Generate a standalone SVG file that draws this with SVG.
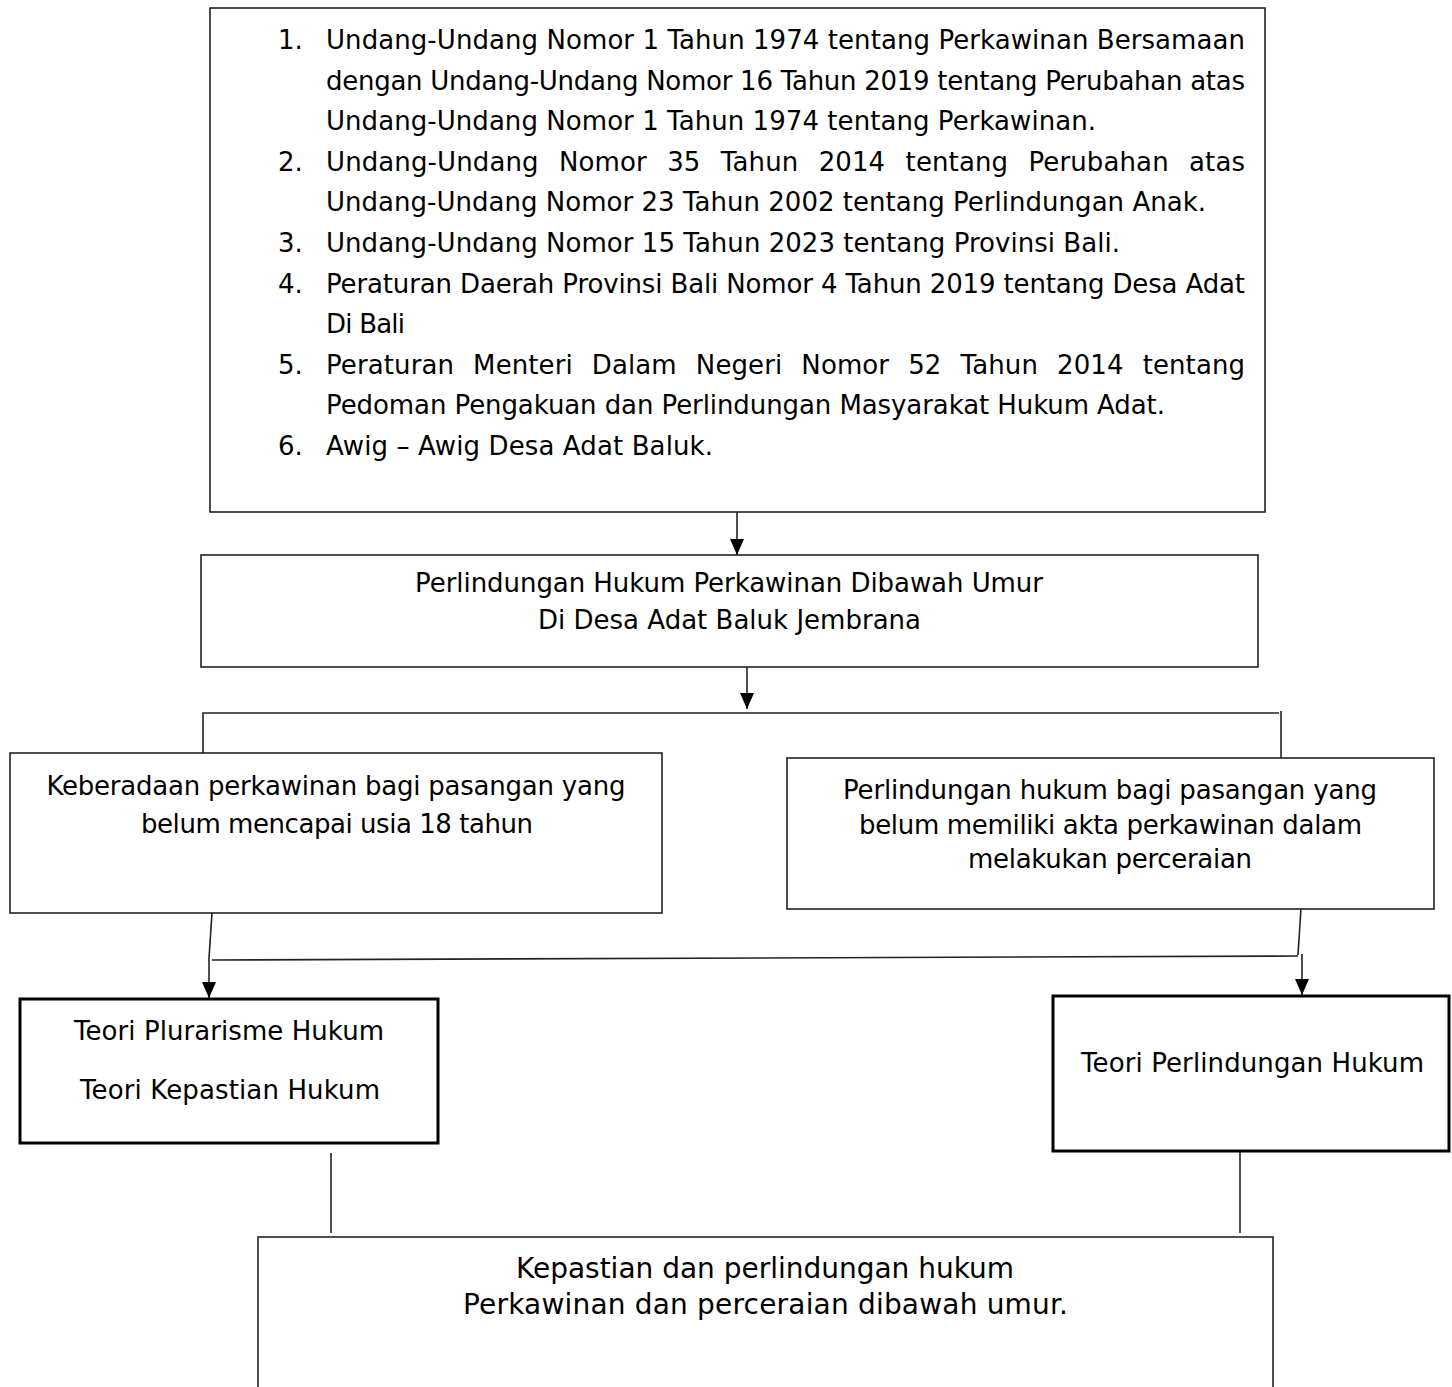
<svg xmlns="http://www.w3.org/2000/svg" width="1452" height="1387" viewBox="0 0 1452 1387">
<style>
text{font-family:"DejaVu Sans","Liberation Sans",sans-serif;font-size:26px;fill:#000}
.box{fill:#fff;stroke:#222;stroke-width:1.6}
.thick{fill:#fff;stroke:#000;stroke-width:3}
.c{text-anchor:middle}
.ln{fill:none;stroke:#222;stroke-width:1.6}
.big{font-size:28px}
</style>
<defs>
<marker id="ah" markerUnits="userSpaceOnUse" markerWidth="16" markerHeight="14" refX="16" refY="7" orient="auto" viewBox="0 0 16 14">
<path d="M0,0 L16,7 L0,14 z" fill="#000"/>
</marker>
</defs>
<rect width="1452" height="1387" fill="#fff"/>

<g id="connectors">
<line class="ln" x1="737" y1="512" x2="737" y2="555" marker-end="url(#ah)"/>
<line class="ln" x1="747" y1="667" x2="747" y2="709" marker-end="url(#ah)"/>
<polyline class="ln" points="203,753 203,713 1279,713"/>
<line class="ln" x1="1281" y1="711" x2="1281" y2="758"/>
<line class="ln" x1="212" y1="913" x2="209" y2="958"/>
<line class="ln" x1="209" y1="958" x2="209" y2="998" marker-end="url(#ah)"/>
<line class="ln" x1="212" y1="960" x2="1298" y2="956"/>
<line class="ln" x1="1301" y1="908" x2="1298" y2="955"/>
<line class="ln" x1="1302" y1="954" x2="1302" y2="995" marker-end="url(#ah)"/>
<line class="ln" x1="331" y1="1153" x2="331" y2="1233"/>
<line class="ln" x1="1240" y1="1152" x2="1240" y2="1233"/>
</g>

<g id="node-legal-basis">
<rect class="box" x="210" y="8" width="1055" height="504"/>
<text x="278" y="49">1.</text>
<text x="326" y="49" textLength="919" lengthAdjust="spacing">Undang-Undang Nomor 1 Tahun 1974 tentang Perkawinan Bersamaan</text>
<text x="326" y="89.6" textLength="919" lengthAdjust="spacing">dengan Undang-Undang Nomor 16 Tahun 2019 tentang Perubahan atas</text>
<text x="326" y="130.2" textLength="770" lengthAdjust="spacing">Undang-Undang Nomor 1 Tahun 1974 tentang Perkawinan.</text>
<text x="278" y="170.8">2.</text>
<text x="326" y="170.8" word-spacing="12" textLength="919" lengthAdjust="spacing">Undang-Undang Nomor 35 Tahun 2014 tentang Perubahan atas</text>
<text x="326" y="211.4" textLength="880" lengthAdjust="spacing">Undang-Undang Nomor 23 Tahun 2002 tentang Perlindungan Anak.</text>
<text x="278" y="252">3.</text>
<text x="326" y="252" textLength="794" lengthAdjust="spacing">Undang-Undang Nomor 15 Tahun 2023 tentang Provinsi Bali.</text>
<text x="278" y="292.6">4.</text>
<text x="326" y="292.6" textLength="919" lengthAdjust="spacing">Peraturan Daerah Provinsi Bali Nomor 4 Tahun 2019 tentang Desa Adat</text>
<text x="326" y="333.2" textLength="79" lengthAdjust="spacing">Di Bali</text>
<text x="278" y="373.8">5.</text>
<text x="326" y="373.8" word-spacing="10.7" textLength="919" lengthAdjust="spacing">Peraturan Menteri Dalam Negeri Nomor 52 Tahun 2014 tentang</text>
<text x="326" y="414.4" textLength="839" lengthAdjust="spacing">Pedoman Pengakuan dan Perlindungan Masyarakat Hukum Adat.</text>
<text x="278" y="455">6.</text>
<text x="326" y="455" textLength="387" lengthAdjust="spacing">Awig – Awig Desa Adat Baluk.</text>
</g>

<g id="node-main-topic">
<rect class="box" x="201" y="555" width="1057" height="112"/>
<text class="c" x="729" y="592" textLength="628" lengthAdjust="spacing">Perlindungan Hukum Perkawinan Dibawah Umur</text>
<text class="c" x="729.5" y="629" textLength="383" lengthAdjust="spacing">Di Desa Adat Baluk Jembrana</text>
</g>

<g id="node-problem-1">
<rect class="box" x="10" y="753" width="652" height="160"/>
<text class="c" x="336" y="795" textLength="579" lengthAdjust="spacing">Keberadaan perkawinan bagi pasangan yang</text>
<text class="c" x="337" y="833" textLength="392" lengthAdjust="spacing">belum mencapai usia 18 tahun</text>
</g>

<g id="node-problem-2">
<rect class="box" x="787" y="758" width="647" height="151"/>
<text class="c" x="1110" y="799" textLength="534" lengthAdjust="spacing">Perlindungan hukum bagi pasangan yang</text>
<text class="c" x="1110.5" y="834" textLength="503" lengthAdjust="spacing">belum memiliki akta perkawinan dalam</text>
<text class="c" x="1110" y="868" textLength="284" lengthAdjust="spacing">melakukan perceraian</text>
</g>

<g id="node-theory-1">
<rect class="thick" x="20" y="999" width="418" height="144"/>
<text class="c" x="229" y="1040" textLength="310" lengthAdjust="spacing">Teori Plurarisme Hukum</text>
<text class="c" x="230" y="1099" textLength="300" lengthAdjust="spacing">Teori Kepastian Hukum</text>
</g>

<g id="node-theory-2">
<rect class="thick" x="1053" y="996" width="396" height="155"/>
<text class="c" x="1252.5" y="1072" textLength="343" lengthAdjust="spacing">Teori Perlindungan Hukum</text>
</g>

<g id="node-result">
<rect class="box" x="258" y="1237" width="1015" height="200"/>
<text class="c big" x="765" y="1278" textLength="498" lengthAdjust="spacing">Kepastian dan perlindungan hukum</text>
<text class="c big" x="765.5" y="1314" textLength="605" lengthAdjust="spacing">Perkawinan dan perceraian dibawah umur.</text>
</g>
</svg>
